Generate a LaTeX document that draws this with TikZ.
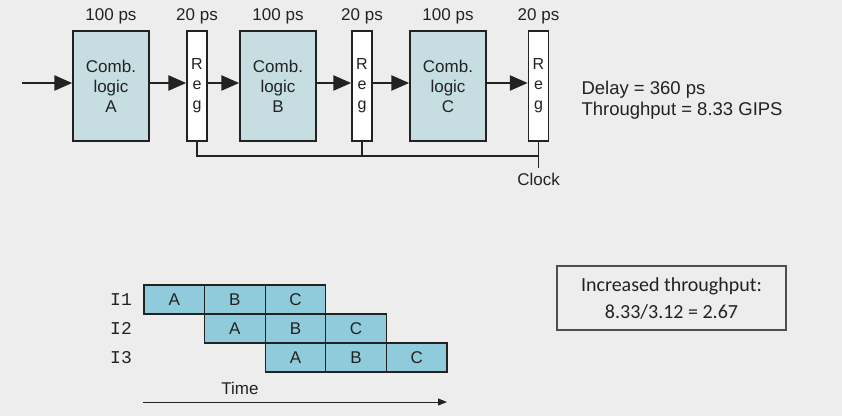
\documentclass[tikz,border=0pt]{standalone}
\usepackage{fontspec}
\setmainfont{Liberation Sans}
\setmonofont{Liberation Mono}
\newfontfamily\calibri{Carlito}
\usepackage{tikz}
\usetikzlibrary{positioning,arrows.meta,calc}
\definecolor{bgray}{HTML}{EDEDED}
\definecolor{combfill}{HTML}{C6DEE1}
\definecolor{cellfill}{HTML}{8FCBDA}
\definecolor{ink}{HTML}{222222}

\begin{document}
\begin{tikzpicture}[x=1pt,y=-1pt,
    comb/.style={draw=ink,line width=1.5pt,fill=combfill,minimum width=76pt,minimum height=110pt,inner sep=0pt,align=center,font=\fontsize{17}{20}\selectfont,text=ink},
    reg/.style={draw=ink,line width=1.5pt,fill=white,minimum width=20pt,minimum height=110pt,inner sep=0pt,align=center,font=\fontsize{16}{20}\selectfont,text=ink},
    delay/.style={font=\fontsize{17}{20}\selectfont,text=ink},
    flow/.style={ink,line width=2.6pt,-{Triangle[length=18pt,width=15pt]}},
    cell/.style={draw=ink,line width=1.2pt,fill=cellfill,minimum width=60.6pt,minimum height=29pt,inner sep=0pt,font=\fontsize{17}{20}\selectfont,text=ink},
    instr/.style={font=\ttfamily\fontsize{18}{20}\selectfont,text=ink}]
  \useasboundingbox[fill=bgray] (0,0) rectangle (842,416);

  % pipeline: three stages with registers
  \node[comb](combA) at (111,86){Comb.\\logic\\A};
  \node[reg](reg1) at (197,86){R\\e\\g};
  \node[comb](combB) at (278,86){Comb.\\logic\\B};
  \node[reg](reg2) at (362,86){R\\e\\g};
  \node[comb](combC) at (448,86){Comb.\\logic\\C};
  \node[reg](reg3) at (538.5,86){R\\e\\g};

  \node[delay](dA) at (111,16){100 ps};
  \node[delay](d1) at (197,16){20 ps};
  \node[delay](dB) at (278,16){100 ps};
  \node[delay](d2) at (362,16){20 ps};
  \node[delay](dC) at (448,16){100 ps};
  \node[delay](d3) at (538.5,16){20 ps};

  \coordinate (in) at (22,83);
  \draw[flow] (in) -- ([yshift=3pt]combA.west);
  \draw[flow] ([yshift=3pt]combA.east) -- ([yshift=3pt]reg1.west);
  \draw[flow] ([yshift=3pt]reg1.east) -- ([yshift=3pt]combB.west);
  \draw[flow] ([yshift=3pt]combB.east) -- ([yshift=3pt]reg2.west);
  \draw[flow] ([yshift=3pt]reg2.east) -- ([yshift=3pt]combC.west);
  \draw[flow] ([yshift=3pt]combC.east) -- ([yshift=3pt]reg3.west);

  % clock line
  \coordinate (clk) at (538.5,168);
  \draw[ink,line width=1.5pt] (reg1.south) -- ++(0,14) -| (reg3.south);
  \draw[ink,line width=1.5pt] (reg2.south) -- ++(0,14);
  \draw[ink,line width=1.5pt] (reg3.south) -- (clk);
  \node[delay,below=2pt of clk](clock){Clock};

  \node[font=\fontsize{18.5}{21}\selectfont,text=ink,align=left,anchor=west](summary) at (578,100){Delay = 360 ps\\Throughput = 8.33 GIPS};

  % pipeline timing
  \foreach \r/\lab in {1/I1,2/I2,3/I3}{
    \node[instr](i\r) at (121,{299.5+29*(\r-1)}){\lab};
    \foreach \s [count=\c] in {A,B,C}{
      \node[cell](c\r\s) at ({174.3+60.6*(\r+\c-2)},{299.5+29*(\r-1)}){\s};
    }
  }
  \coordinate (t0) at (143,402);
  \coordinate (t1) at (447,402);
  \draw[ink,line width=1pt,-{Triangle[length=9pt,width=7pt]}] (t0) -- (t1);
  \node[delay](time) at (240,388){Time};

  \node[draw=ink!80,line width=1.3pt,minimum width=229pt,minimum height=64pt,align=center,font=\calibri\fontsize{20}{27}\selectfont,text=ink](gain) at (671.5,298){Increased throughput:\\8.33/3.12 = 2.67};
\end{tikzpicture}
\end{document}
